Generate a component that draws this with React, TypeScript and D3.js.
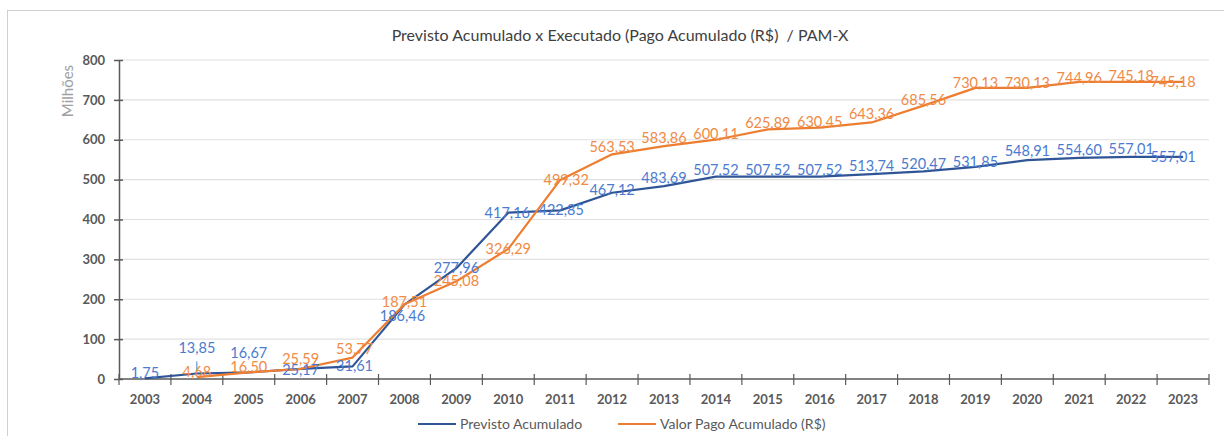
import React, { useEffect, useRef } from "react";
import * as d3 from "d3";

const years = [
  "2003", "2004", "2005", "2006", "2007", "2008", "2009", "2010", "2011", "2012", "2013",
  "2014", "2015", "2016", "2017", "2018", "2019", "2020", "2021", "2022", "2023",
];
const previsto = [
  1.75, 13.85, 16.67, 25.17, 31.61, 186.46, 277.96, 417.16, 422.85, 467.12, 483.69,
  507.52, 507.52, 507.52, 513.74, 520.47, 531.85, 548.91, 554.6, 557.01, 557.01,
];
const pago: (number | null)[] = [
  null, 4.68, 16.5, 25.59, 53.77, 187.51, 245.08, 326.29, 499.32, 563.53, 583.86,
  600.11, 625.89, 630.45, 643.36, 685.56, 730.13, 730.13, 744.96, 745.18, 745.18,
];
const yTicks = [0, 100, 200, 300, 400, 500, 600, 700, 800];

// label nudges (dx, dy of baseline from the point), hand placed like the original
const previstoNudge = [
  [0, 0], [0, -20], [0, -14], [0, 6], [2, 5], [-2, 16], [0, 5], [-1, 5], [1, 5], [0, 2], [0, -3],
  [0, -2], [0, -2], [0, -2], [0, -3], [0, -2], [0, 0], [0, -4], [0, -3], [0, -3], [-10, 5],
];
const pagoNudge = [
  [0, 0], [0, 0], [0, 0], [0, -5], [2, -4], [0, 3], [0, 5], [0, 5], [6, 5], [0, -2], [0, -3],
  [0, -1], [0, -1], [0, -1], [0, -3], [0, -1], [0, 0], [0, 0], [0, 1], [0, -1], [-10, 5],
];

const fmt = (v: number) => v.toFixed(2).replace(".", ",");

const W = 1224;
const H = 436;
const FONT = "Lato, 'Open Sans', sans-serif";

const App = () => {
  const svgRef = useRef<SVGSVGElement>(null);

  useEffect(() => {
    const svg = d3.select(svgRef.current);
    svg.selectAll("*").remove();

    const left = 119;
    const right = 1209;
    const top = 60;
    const bottom = 379;

    const x = d3.scaleBand().domain(years).range([left, right]);
    const cx = (d: string) => (x(d) as number) + x.bandwidth() / 2;
    const y = d3.scaleLinear().domain([0, 800]).range([bottom, top]);

    svg.append("rect").attr("width", W).attr("height", H).attr("fill", "white");
    svg
      .append("rect")
      .attr("x", 7.5)
      .attr("y", 10.5)
      .attr("width", W)
      .attr("height", H)
      .attr("fill", "none")
      .attr("stroke", "#d0d0d0");

    // title
    svg
      .append("text")
      .attr("x", 620)
      .attr("y", 41)
      .attr("text-anchor", "middle")
      .style("font-family", FONT)
      .style("font-size", "16px")
      .style("white-space", "pre")
      .attr("fill", "#404040")
      .text("Previsto Acumulado x Executado (Pago Acumulado (R$)  / PAM-X");

    // grid
    svg
      .append("g")
      .selectAll("line")
      .data(yTicks.filter((t) => t > 0))
      .join("line")
      .attr("x1", left)
      .attr("x2", right)
      .attr("y1", (d) => y(d))
      .attr("y2", (d) => y(d))
      .attr("stroke", "#e0e0e0")
      .attr("stroke-width", 1.2);

    // y axis
    const yAxis = svg
      .append("g")
      .attr("transform", `translate(${left},0)`)
      .call(d3.axisLeft(y).tickValues(yTicks).tickSizeInner(5).tickSizeOuter(0).tickPadding(9));
    yAxis.selectAll(".tick line").attr("x2", 4).attr("x1", -5);
    yAxis.selectAll("line, path").attr("stroke", "#595959").attr("stroke-width", 1.5);
    yAxis
      .selectAll("text")
      .style("font-family", FONT)
      .style("font-size", "13px")
      .style("font-weight", "bold")
      .attr("fill", "#595959");

    svg
      .append("text")
      .attr("transform", `translate(73,91) rotate(-90)`)
      .attr("text-anchor", "middle")
      .style("font-family", FONT)
      .style("font-size", "15px")
      .attr("fill", "#a0a0a0")
      .text("Milhões");

    // x axis
    const xg = svg.append("g");
    xg.append("line")
      .attr("x1", left)
      .attr("x2", right)
      .attr("y1", bottom)
      .attr("y2", bottom)
      .attr("stroke", "#595959")
      .attr("stroke-width", 1.5);
    const bounds = years.map((d) => x(d) as number).concat([right]);
    xg.selectAll("line.tk")
      .data(bounds)
      .join("line")
      .attr("class", "tk")
      .attr("x1", (d) => d)
      .attr("x2", (d) => d)
      .attr("y1", bottom - 5)
      .attr("y2", bottom + 6)
      .attr("stroke", "#595959")
      .attr("stroke-width", 1.2);
    xg.selectAll("text")
      .data(years)
      .join("text")
      .attr("x", (d) => cx(d))
      .attr("y", 404)
      .attr("text-anchor", "middle")
      .style("font-family", FONT)
      .style("font-size", "13px")
      .style("font-weight", "bold")
      .attr("fill", "#595959")
      .text((d) => d);

    const blueLine = "#2f5597";
    const blueText = "#4a7bd0";
    const orange = "#ed7d31";
    const orangeText = "#f08a45";

    const line = d3
      .line<number | null>()
      .defined((d) => d !== null)
      .x((_, i) => cx(years[i]))
      .y((d) => y(d as number));

    svg
      .append("path")
      .datum(previsto)
      .attr("fill", "none")
      .attr("stroke", blueLine)
      .attr("stroke-width", 2.2)
      .attr("stroke-linejoin", "round")
      .attr("d", line as any);

    svg
      .append("path")
      .datum(pago)
      .attr("fill", "none")
      .attr("stroke", orange)
      .attr("stroke-width", 2.2)
      .attr("stroke-linejoin", "round")
      .attr("d", line);

    // leader line for 2004 label
    svg
      .append("line")
      .attr("x1", cx("2004"))
      .attr("x2", cx("2004"))
      .attr("y1", y(previsto[1]) - 12)
      .attr("y2", y(previsto[1]) - 3)
      .attr("stroke", blueText)
      .attr("stroke-width", 1);

    const labels = (vals: (number | null)[], nudge: number[][], color: string) =>
      svg
        .append("g")
        .selectAll("text")
        .data(vals.map((v, i) => ({ v, i })).filter((d) => d.v !== null))
        .join("text")
        .attr("x", (d) => cx(years[d.i]) + nudge[d.i][0])
        .attr("y", (d) => y(d.v as number) + nudge[d.i][1])
        .attr("text-anchor", "middle")
        .style("font-family", FONT)
        .style("font-size", "14.5px")
        .attr("fill", color)
        .text((d) => fmt(d.v as number));

    labels(pago, pagoNudge, orangeText);
    labels(previsto, previstoNudge, blueText);

    // legend
    const legend = [
      { name: "Previsto Acumulado", color: blueLine, x: 418 },
      { name: "Valor Pago Acumulado (R$)", color: orange, x: 618 },
    ];
    const lg = svg.append("g").selectAll("g").data(legend).join("g");
    lg.append("line")
      .attr("x1", (d) => d.x)
      .attr("x2", (d) => d.x + 38)
      .attr("y1", 424)
      .attr("y2", 424)
      .attr("stroke", (d) => d.color)
      .attr("stroke-width", 2);
    lg.append("text")
      .attr("x", (d) => d.x + 42)
      .attr("y", 429)
      .style("font-family", FONT)
      .style("font-size", "14px")
      .attr("fill", "#595959")
      .text((d) => d.name);
  }, []);

  return (
    <svg
      ref={svgRef}
      width={W}
      height={H}
      style={{ position: "absolute", left: 0, top: 0, display: "block" }}
    ></svg>
  );
};

export default App;
